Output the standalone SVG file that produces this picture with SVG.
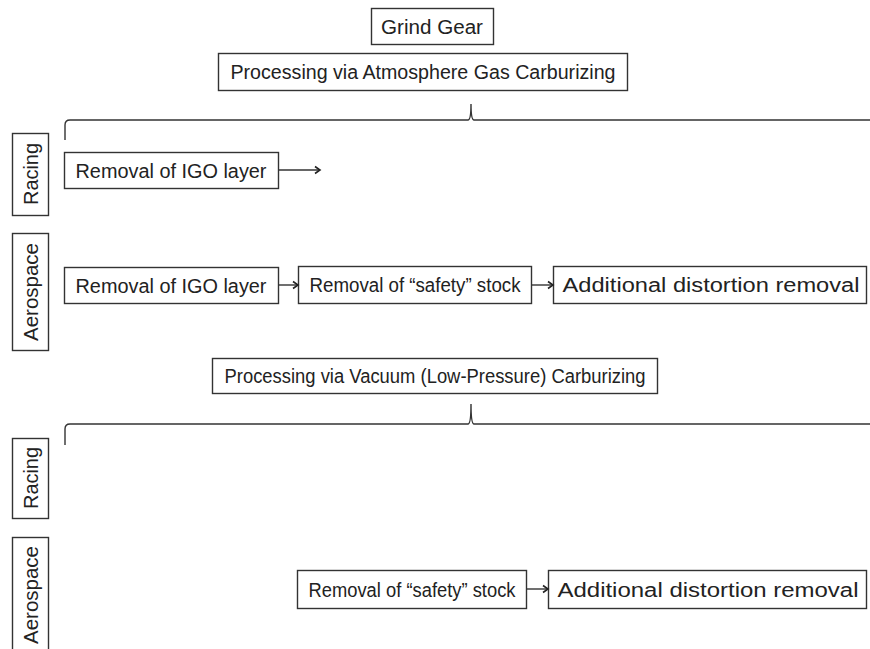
<svg xmlns="http://www.w3.org/2000/svg" width="870" height="649" viewBox="0 0 870 649">
<style>
.box{fill:#fff;stroke:#333;stroke-width:1.4}
.t{font-family:"Liberation Sans",Arial,sans-serif;font-size:20px;fill:#222}
.ln{fill:none;stroke:#333;stroke-width:1.4}
</style>
<defs>
<marker id="ah" markerWidth="10" markerHeight="10" refX="8" refY="5" orient="auto" markerUnits="userSpaceOnUse">
<polyline points="3,1.5 8,5 3,8.5" fill="none" stroke="#222" stroke-width="1.6"/>
</marker>
</defs>
<rect width="870" height="649" fill="#fff"/>
<g id="grind-gear"><rect class="box" x="371.5" y="8.5" width="122" height="36"/><text class="t" x="432" y="33.5" text-anchor="middle" textLength="102" lengthAdjust="spacingAndGlyphs">Grind Gear</text></g>
<g id="proc-atm"><rect class="box" x="218.5" y="53.5" width="409" height="37"/><text class="t" x="423" y="79" text-anchor="middle" textLength="385" lengthAdjust="spacingAndGlyphs">Processing via Atmosphere Gas Carburizing</text></g>
<g id="racing1"><rect class="box" x="12.5" y="133.5" width="36" height="82"/><text class="t" transform="translate(37.5,174) rotate(-90)" text-anchor="middle" textLength="62" lengthAdjust="spacingAndGlyphs">Racing</text></g>
<g id="r1-igo"><rect class="box" x="64.5" y="152.5" width="214" height="36"/><text class="t" x="171" y="177.5" text-anchor="middle" textLength="191" lengthAdjust="spacingAndGlyphs">Removal of IGO layer</text></g>
<g id="aero1"><rect class="box" x="12.5" y="233.5" width="36" height="117"/><text class="t" transform="translate(37.5,292) rotate(-90)" text-anchor="middle" textLength="98" lengthAdjust="spacingAndGlyphs">Aerospace</text></g>
<g id="a1-igo"><rect class="box" x="64.5" y="267.5" width="214" height="36"/><text class="t" x="171" y="292.5" text-anchor="middle" textLength="191" lengthAdjust="spacingAndGlyphs">Removal of IGO layer</text></g>
<g id="a1-safety"><rect class="box" x="298.5" y="266.5" width="233" height="37"/><text class="t" x="415" y="292" text-anchor="middle" textLength="211" lengthAdjust="spacingAndGlyphs">Removal of “safety” stock</text></g>
<g id="a1-dist"><rect class="box" x="553.5" y="266.5" width="313" height="37"/><text class="t" x="711" y="292" text-anchor="middle" textLength="297" lengthAdjust="spacingAndGlyphs">Additional distortion removal</text></g>
<g id="proc-vac"><rect class="box" x="212.5" y="358.5" width="445" height="35"/><text class="t" x="435" y="383" text-anchor="middle" textLength="421" lengthAdjust="spacingAndGlyphs">Processing via Vacuum (Low-Pressure) Carburizing</text></g>
<g id="racing2"><rect class="box" x="12.5" y="438.5" width="36" height="80"/><text class="t" transform="translate(37.5,478) rotate(-90)" text-anchor="middle" textLength="62" lengthAdjust="spacingAndGlyphs">Racing</text></g>
<g id="aero2"><rect class="box" x="12.5" y="537.5" width="36" height="117"/><text class="t" transform="translate(37.5,595) rotate(-90)" text-anchor="middle" textLength="98" lengthAdjust="spacingAndGlyphs">Aerospace</text></g>
<g id="a2-safety"><rect class="box" x="297.5" y="570.5" width="229" height="38"/><text class="t" x="412" y="596.5" text-anchor="middle" textLength="207" lengthAdjust="spacingAndGlyphs">Removal of “safety” stock</text></g>
<g id="a2-dist"><rect class="box" x="548.5" y="570.5" width="318" height="38"/><text class="t" x="708" y="596.5" text-anchor="middle" textLength="301" lengthAdjust="spacingAndGlyphs">Additional distortion removal</text></g>
<g id="connectors">
<path class="ln" d="M65,140 V125 Q65,120 70,120 H468 Q471,120 471,104 Q471,120 474,120 H870"/>
<path class="ln" d="M65,445 V429 Q65,424 70,424 H468 Q471,424 471,404 Q471,424 474,424 H870"/>
<line class="ln" x1="278.5" y1="170" x2="320" y2="170" marker-end="url(#ah)"/>
<line class="ln" x1="278.5" y1="285" x2="298" y2="285" marker-end="url(#ah)"/>
<line class="ln" x1="531.5" y1="285" x2="553" y2="285" marker-end="url(#ah)"/>
<line class="ln" x1="526.5" y1="589" x2="548" y2="589" marker-end="url(#ah)"/>
</g>
</svg>
